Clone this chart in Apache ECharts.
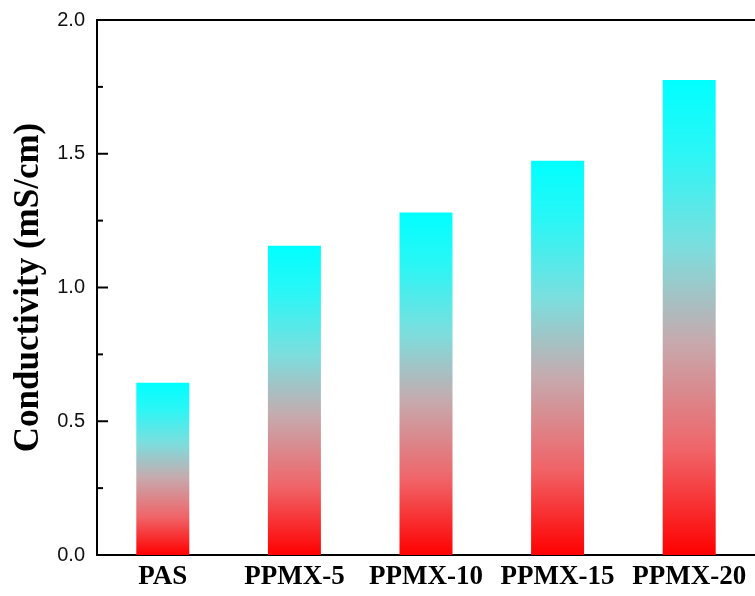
<!DOCTYPE html>
<html>
<head>
<meta charset="utf-8">
<script src="https://cdn.jsdelivr.net/npm/echarts@6/dist/echarts.min.js"></script>
<style>
html, body { margin: 0; padding: 0; background: #fff; }
#chart { width: 755px; height: 596px; }
</style>
</head>
<body>
<div id="chart"></div>
<script>
// samples and conductivity
var samples = ['PAS', 'PPMX-5', 'PPMX-10', 'PPMX-15', 'PPMX-20']
var conductivity = [0.644, 1.156, 1.28, 1.474, 1.776]
var majorTicks = [0.5, 1.0, 1.5, 2.0]
var minorTicks = [0.25, 0.75, 1.25, 1.75]

var gridLeft = 97
var chart = echarts.init(document.getElementById('chart'))

var barColor = new echarts.graphic.LinearGradient(0, 0, 0, 1, [
  { offset: 0, color: '#00ffff' },
  { offset: 0.15, color: '#2af6f6' },
  { offset: 0.35, color: '#7cdede' },
  { offset: 0.55, color: '#c6aaae' },
  { offset: 0.78, color: '#f06468' },
  { offset: 1, color: '#ff0000' }
])

var option = {
  animation: false,
  backgroundColor: '#fff',
  grid: {
    left: gridLeft, top: 20, right: -8, bottom: 41
  },
  xAxis: [{
    type: 'category',
    data: samples,
    axisLine: { lineStyle: { color: '#000', width: 2 } },
    axisTick: { show: false },
    axisLabel: {
      interval: 0,
      color: '#000',
      fontFamily: 'Liberation Serif',
      fontWeight: 'bold',
      fontSize: 27,
      margin: 9
    }
  }, {
    // top frame line
    type: 'category',
    position: 'top',
    data: samples,
    axisLine: { show: true, onZero: false, lineStyle: { color: '#000', width: 2 } },
    axisTick: { show: false },
    axisLabel: { show: false }
  }],
  yAxis: {
    type: 'value',
    min: 0,
    max: 2,
    interval: 0.5,
    name: 'Conductivity (mS/cm)',
    nameLocation: 'middle',
    nameGap: 50,
    nameTextStyle: {
      color: '#000',
      fontFamily: 'Liberation Serif',
      fontWeight: 'bold',
      fontSize: 35
    },
    axisLine: { show: true, lineStyle: { color: '#000', width: 2 } },
    axisTick: { show: false },
    minorTick: { show: false },
    splitLine: { show: false },
    axisLabel: {
      color: '#111',
      fontFamily: 'Liberation Sans',
      fontSize: 20,
      margin: 12,
      formatter: function (v) { return v.toFixed(1) }
    }
  },
  series: [{
    type: 'bar',
    data: conductivity,
    barWidth: 53,
    itemStyle: { color: barColor }
  }]
}

chart.setOption(option)

// inward ticks on the y axis, placed through the axis scale
function tickLine (v, len) {
  var y = chart.convertToPixel({ yAxisIndex: 0 }, v)
  return {
    type: 'line',
    shape: { x1: gridLeft, y1: y, x2: gridLeft + len, y2: y },
    style: { stroke: '#000', lineWidth: 2 },
    z: 10
  }
}
var ticks = majorTicks.map(function (v) { return tickLine(v, 11) })
  .concat(minorTicks.map(function (v) { return tickLine(v, 6) }))
chart.setOption({ graphic: ticks })
</script>
</body>
</html>
